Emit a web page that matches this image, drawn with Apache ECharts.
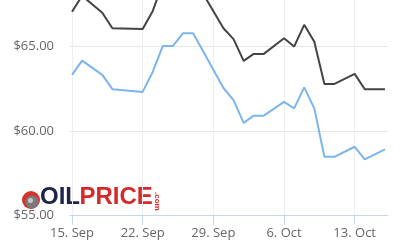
<!DOCTYPE html>
<html>
<head>
<meta charset="utf-8">
<script src="https://cdn.jsdelivr.net/npm/echarts@6/dist/echarts.min.js"></script>
<style>
html,body{margin:0;padding:0;background:#fff;}
#chart{width:400px;height:251px;}
</style>
</head>
<body>
<div id="chart"></div>
<script>
// Day offsets from 15 Sep
var days = [0, 1, 3, 4, 7, 8, 9, 10, 11, 12, 15, 16, 17, 18, 19, 21, 22, 23, 24, 25, 26, 28, 29, 31];
var brent = [67.01, 67.95, 66.95, 66.04, 65.99, 67.06, 68.70, 68.70, 69.10, 69.06, 66.04, 65.40, 64.12, 64.53, 64.53, 65.45, 64.96, 66.24, 65.25, 62.76, 62.76, 63.35, 62.45, 62.45];
var wti = [63.29, 64.13, 63.29, 62.45, 62.29, 63.48, 65.00, 65.00, 65.75, 65.75, 62.52, 61.81, 60.47, 60.89, 60.89, 61.70, 61.32, 62.56, 61.32, 58.47, 58.47, 59.06, 58.32, 58.91];
var tickDays = [0, 7, 14, 21, 28];
var tickLabels = ['15. Sep', '22. Sep', '29. Sep', '6. Oct', '13. Oct'];

function pairs(vals) { return days.map(function (d, i) { return [d, vals[i]]; }); }

var chart = echarts.init(document.getElementById('chart'), null, {renderer: 'canvas'});
var labelFont = '"Open Sans", sans-serif';
chart.setOption({
  animation: false,
  grid: {left: 70, right: 12, top: -39, bottom: 35.3, containLabel: false, outerBoundsMode: 'none'},
  xAxis: {
    type: 'value', min: -0.2, max: 31.3,
    axisLine: {show: true, lineStyle: {color: '#ccd6eb', width: 1}},
    axisTick: {show: true, length: 9, customValues: tickDays, lineStyle: {color: '#ccd6eb'}},
    axisLabel: {
      customValues: tickDays, margin: 11, color: '#666666', fontSize: 13, fontFamily: labelFont,
      formatter: function (v) { var i = tickDays.indexOf(Math.round(v)); return i >= 0 ? tickLabels[i] : ''; }
    },
    splitLine: {show: true, lineStyle: {color: '#eeeeee', width: 1}}
  },
  yAxis: {
    type: 'value', min: 55, max: 70, interval: 5,
    axisLine: {show: false}, axisTick: {show: false},
    axisLabel: {margin: 16, color: '#666666', fontSize: 13, fontFamily: labelFont,
      formatter: function (v) { return '$' + v.toFixed(2); }},
    splitLine: {show: true, lineStyle: {color: '#e6e6e6', width: 1}}
  },
  series: [
    {name: 'Brent', type: 'line', data: pairs(brent), showSymbol: false, symbol: 'none',
      lineStyle: {color: '#434348', width: 2}, itemStyle: {color: '#434348'}},
    {name: 'WTI', type: 'line', data: pairs(wti), showSymbol: false, symbol: 'none',
      lineStyle: {color: '#7cb5ec', width: 2}, itemStyle: {color: '#7cb5ec'}}
  ],
  graphic: [
    {type: 'group', z: 100, children: [
      {type: 'circle', shape: {cx: 31, cy: 200, r: 9}, style: {fill: '#d8332b'}},
      {type: 'circle', shape: {cx: 32, cy: 202, r: 6.5}, style: {fill: '#7a7a7a'}},
      {type: 'circle', shape: {cx: 30.5, cy: 200.5, r: 2.5}, style: {fill: '#c8c8c8'}},
      {type: 'text', x: 40, y: 209, style: {text: 'OIL', font: 'bold 24px "Liberation Sans", Arial, sans-serif', fill: '#1c2447', verticalAlign: 'bottom', textVerticalAlign: 'bottom'}},
      {type: 'text', x: 79.5, y: 209, style: {text: 'PRICE', font: 'bold 24px "Liberation Sans", Arial, sans-serif', fill: '#d42a2a', verticalAlign: 'bottom', textVerticalAlign: 'bottom'}},
      {type: 'text', x: 153, y: 192, rotation: -Math.PI / 2, style: {text: '.com', font: 'bold 8px "Liberation Sans", Arial, sans-serif', fill: '#d42a2a', verticalAlign: 'bottom', textVerticalAlign: 'bottom'}}
    ]}
  ]
});
</script>
</body>
</html>
